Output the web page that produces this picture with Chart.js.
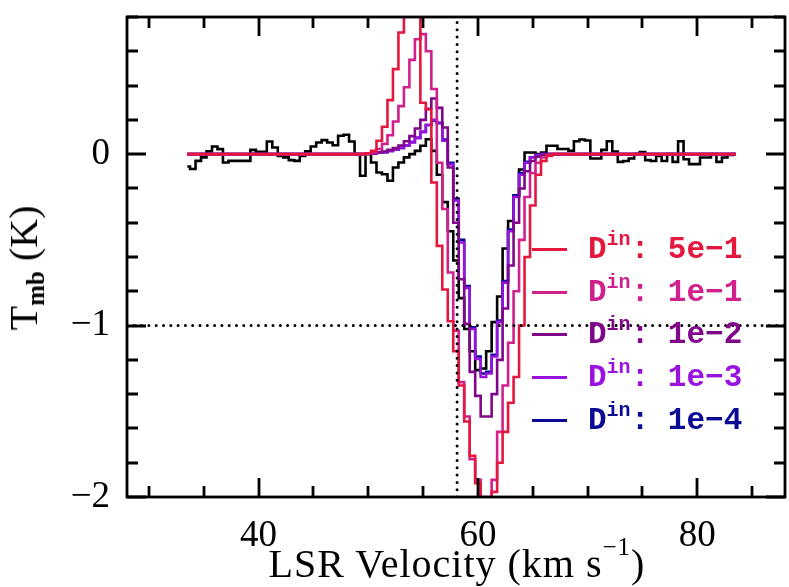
<!DOCTYPE html>
<html>
<head>
<meta charset="utf-8">
<script src="https://cdn.jsdelivr.net/npm/chart.js@4.4.1/dist/chart.umd.min.js"></script>
<style>
  html, body { margin: 0; padding: 0; background: #fff; }
  #wrap { position: relative; width: 789px; height: 587px; overflow: hidden; }
  #plot { position: absolute; left: 0; top: 0; }
  .title { position: absolute; font-family: 'Liberation Serif', serif; font-size: 40px; color: #000; white-space: nowrap; line-height: 1; }
  .title sup { font-size: 25px; vertical-align: baseline; position: relative; top: -22px; }
  .title sub { font-size: 25px; vertical-align: baseline; position: relative; top: 7px; font-weight: bold; }
  #xtitle { left: 0; width: 914px; text-align: center; top: 544px; letter-spacing: 1px; }
  #ytitle { left: 24px; top: 268px; transform: translate(-50%, -50%) rotate(-90deg); }
  .leg { position: absolute; left: 532px; height: 40px; white-space: nowrap; }
  .leg i { position: absolute; left: 0; top: 19px; width: 35px; height: 3px; }
  .leg span { position: absolute; left: 56px; top: 5px; font-family: 'Liberation Mono', monospace; font-weight: bold; font-size: 31px; line-height: 1; }
  .leg sup { font-size: 20px; vertical-align: baseline; position: relative; top: -13px; }
</style>
</head>
<body>
<div id="wrap">
  <canvas id="plot" width="789" height="587"></canvas>
  <div class="title" id="xtitle">LSR Velocity (km s<sup>−1</sup>)</div>
  <div class="title" id="ytitle">T<sub>mb</sub> (K)</div>
  <div id="legend"></div>
</div>
<script>
// observed spectrum, channel centres (km/s)
const obsVelocity = [
  33.5, 34.0, 34.5, 35.0, 35.5, 36.0, 36.5, 37.0, 37.5, 38.0,
  38.5, 39.0, 39.5, 40.0, 40.5, 41.0, 41.5, 42.0, 42.5, 43.0,
  43.5, 44.0, 44.5, 45.0, 45.5, 46.0, 46.5, 47.0, 47.5, 48.0,
  48.5, 49.0, 49.5, 50.0, 50.5, 51.0, 51.5, 52.0, 52.5, 53.0,
  53.5, 54.0, 54.5, 55.0, 55.5, 56.0, 56.5, 57.0, 57.5, 58.0,
  58.5, 59.0, 59.5, 60.0, 60.5, 61.0, 61.5, 62.0, 62.5, 63.0,
  63.5, 64.0, 64.5, 65.0, 65.5, 66.0, 66.5, 67.0, 67.5, 68.0,
  68.5, 69.0, 69.5, 70.0, 70.5, 71.0, 71.5, 72.0, 72.5, 73.0,
  73.5, 74.0, 74.5, 75.0, 75.5, 76.0, 76.5, 77.0, 77.5, 78.0,
  78.5, 79.0, 79.5, 80.0, 80.5, 81.0, 81.5, 82.0, 82.5, 83.0,
  83.5
];
const obsTmb = [
  -0.072, -0.087, -0.039, -0.019, 0.016, 0.045, 0.029, -0.049, -0.039, -0.039,
  -0.039, -0.039, 0.025, 0.014, 0.014, 0.074, 0.039, -0.010, -0.019, -0.035,
  -0.039, -0.010, 0.016, 0.045, 0.068, 0.082, 0.068, 0.052, 0.107, 0.113,
  0.074, 0.000, -0.126, 0.000, -0.049, -0.107, -0.117, -0.155, -0.078, -0.049,
  -0.019, 0.000, 0.019, 0.049, 0.087, 0.019, -0.120, -0.280, -0.450, -0.620,
  -0.840, -1.020, -1.150, -1.260, -1.250, -1.150, -0.980, -0.830, -0.550, -0.390,
  -0.240, -0.090, 0.010, 0.010, 0.000, 0.010, 0.049, 0.049, 0.030, 0.030,
  0.020, 0.075, 0.085, 0.080, -0.025, -0.025, 0.025, 0.075, 0.015, -0.045,
  -0.040, -0.025, 0.000, 0.012, -0.035, -0.040, -0.010, -0.040, 0.000, -0.045,
  0.075, -0.030, -0.058, -0.058, -0.020, -0.020, 0.000, -0.045, -0.020, -0.005,
  0.000
];

// model spectra: flat zero outside 49.5-67 km/s
const modelVelocity = [
  33.5,
  49.5, 50.0, 50.5, 51.0, 51.5, 52.0, 52.5, 53.0, 53.5, 54.0,
  54.5, 55.0, 55.5, 56.0, 56.5, 57.0, 57.5, 58.0, 58.5, 59.0,
  59.5, 60.0, 60.5, 61.0, 61.5, 62.0, 62.5, 63.0, 63.5, 64.0,
  64.5, 65.0, 65.5, 66.0, 66.5, 67.0,
  83.5
];
const model5em1 = [0,
  0, 0.005, 0.019, 0.078, 0.16, 0.315, 0.496, 0.71, 0.95, 1.05,
  0.95, 0.30, 0.26, -0.165, -0.535, -0.79, -0.975, -1.15, -1.35, -1.56,
  -1.76, -1.92, -2.03, -2.03, -1.97, -1.80, -1.62, -1.45, -1.30, -1.00,
  -0.60, -0.30, -0.12, -0.04, -0.01, 0,
  0];
const model1em1 = [0,
  0, 0.003, 0.01, 0.03, 0.06, 0.11, 0.19, 0.28, 0.39, 0.55,
  0.67, 0.70, 0.60, 0.38, -0.05, -0.32, -0.69, -1.03, -1.33, -1.53,
  -1.78, -1.90, -2.0, -2.0, -1.90, -1.62, -1.35, -1.10, -0.80, -0.50,
  -0.25, -0.11, -0.05, -0.02, -0.005, 0,
  0];
const model1em2 = [0,
  0, 0.002, 0.005, 0.01, 0.015, 0.025, 0.035, 0.05, 0.075, 0.105,
  0.15, 0.2, 0.265, 0.325, 0.27, 0.155, -0.078, -0.40, -0.73, -0.99,
  -1.27, -1.41, -1.53, -1.53, -1.40, -1.20, -0.90, -0.65, -0.40, -0.20,
  -0.10, -0.04, -0.015, -0.005, 0, 0,
  0];
const model1em3 = [0,
  0, 0.002, 0.004, 0.008, 0.012, 0.018, 0.026, 0.036, 0.05, 0.07,
  0.095, 0.13, 0.17, 0.2, 0.185, 0.078, -0.06, -0.27, -0.515, -0.78,
  -1.02, -1.195, -1.30, -1.28, -1.18, -0.98, -0.75, -0.45, -0.25, -0.12,
  -0.05, -0.02, -0.005, 0, 0, 0,
  0];
const model1em4 = [0,
  0, 0.002, 0.004, 0.008, 0.012, 0.018, 0.026, 0.036, 0.05, 0.07,
  0.095, 0.13, 0.17, 0.195, 0.18, 0.085, -0.05, -0.26, -0.50, -0.77,
  -1.01, -1.18, -1.28, -1.27, -1.17, -0.97, -0.74, -0.44, -0.24, -0.11,
  -0.045, -0.018, -0.005, 0, 0, 0,
  0];

const modelLabels = ['5e−1', '1e−1', '1e−2', '1e−3', '1e−4'];
const modelColors = ['#e4183f', '#d0218c', '#80078a', '#9a12e0', '#0a0a95'];
const modelSeries = [model5em1, model1em1, model1em2, model1em3, model1em4];

// axes
const xRange = [28, 88];
const yRange = [-2, 0.8];
const xMinorTicks = [30, 35, 40, 45, 50, 55, 60, 65, 70, 75, 80, 85];
const xMajorTicks = [40, 60, 80];
const yMinorTicks = [-2, -1.8, -1.6, -1.4, -1.2, -1, -0.8, -0.6, -0.4, -0.2, 0, 0.2, 0.4, 0.6, 0.8];
const yMajorTicks = [-2, -1, 0];
const refVelocity = 58.1;
const refTmb = -1;

function points(xs, ys) {
    return xs.map((v, i) => ({ x: v, y: ys[i] }));
}

const datasets = [];
datasets.push({
    data: [{ x: refVelocity, y: yRange[0] }, { x: refVelocity, y: yRange[1] }],
    borderColor: '#000', borderWidth: 3, borderDash: [0, 7.3], borderCapStyle: 'round',
    pointRadius: 0, order: 0
});
datasets.push({
    data: [{ x: xRange[0], y: refTmb }, { x: xRange[1], y: refTmb }],
    borderColor: '#000', borderWidth: 3, borderDash: [0, 7.3], borderCapStyle: 'round',
    pointRadius: 0, order: 0
});
modelSeries.forEach((s, i) => {
    datasets.push({
        data: points(modelVelocity, s),
        borderColor: modelColors[i], borderWidth: 2.6, stepped: 'middle',
        pointRadius: 0, order: i + 1
    });
});
datasets.push({
    data: points(obsVelocity, obsTmb),
    borderColor: '#000', borderWidth: 2.6, stepped: 'middle',
    pointRadius: 0, order: 10
});

// frame with inward ticks on all four sides
const framePlugin = {
    id: 'frame',
    afterDraw(chart) {
        const { ctx, chartArea: a, scales: { x, y } } = chart;
        ctx.save();
        ctx.strokeStyle = '#000';
        ctx.lineWidth = 2.8;
        ctx.lineCap = 'butt';
        ctx.strokeRect(a.left, a.top, a.right - a.left, a.bottom - a.top);
        ctx.beginPath();
        xMinorTicks.forEach(v => {
            const px = Math.round(x.getPixelForValue(v));
            const len = xMajorTicks.includes(v) ? 19 : 11;
            ctx.moveTo(px, a.bottom); ctx.lineTo(px, a.bottom - len);
            ctx.moveTo(px, a.top); ctx.lineTo(px, a.top + len);
        });
        yMinorTicks.forEach(v => {
            const py = Math.round(y.getPixelForValue(v));
            const len = yMajorTicks.some(m => Math.abs(m - v) < 1e-6) ? 19 : 11;
            ctx.moveTo(a.left, py); ctx.lineTo(a.left + len, py);
            ctx.moveTo(a.right, py); ctx.lineTo(a.right - len, py);
        });
        ctx.stroke();
        ctx.restore();
    }
};

const tickFont = { family: "'Liberation Serif', serif", size: 37 };
const fmt = v => (v < 0 ? '−' + Math.abs(v) : String(v));

new Chart(document.getElementById('plot').getContext('2d'), {
    type: 'line',
    data: { datasets: datasets },
    options: {
        responsive: false,
        animation: false,
        events: [],
        layout: { padding: { top: 17, right: 4, left: 0, bottom: 0 } },
        plugins: { legend: { display: false }, tooltip: { enabled: false } },
        scales: {
            x: {
                type: 'linear', min: xRange[0], max: xRange[1],
                grid: { display: false, drawTicks: false },
                border: { display: false },
                afterBuildTicks: s => { s.ticks = xMajorTicks.map(v => ({ value: v })); },
                afterFit: s => { s.height = 90; s.paddingLeft = 0; s.paddingRight = 0; },
                ticks: { font: tickFont, color: '#000', padding: 17, maxRotation: 0, callback: fmt }
            },
            y: {
                type: 'linear', min: yRange[0], max: yRange[1],
                grid: { display: false, drawTicks: false },
                border: { display: false },
                afterBuildTicks: s => { s.ticks = yMajorTicks.map(v => ({ value: v })); },
                afterFit: s => { s.width = 127; s.paddingTop = 0; s.paddingBottom = 0; },
                ticks: { font: tickFont, color: '#000', padding: 17, callback: fmt }
            }
        }
    },
    plugins: [framePlugin]
});

// legend with superscripts, built from the model labels/colours
const legendRows = [249, 292, 334, 377, 420];
const legend = document.getElementById('legend');
modelLabels.forEach((lab, i) => {
    const row = document.createElement('div');
    row.className = 'leg';
    row.style.top = (legendRows[i] - 20) + 'px';
    row.innerHTML = `<i style="background:${modelColors[i]}"></i>` +
        `<span style="color:${modelColors[i]}">D<sup>in</sup>: ${lab}</span>`;
    legend.appendChild(row);
});
</script>
</body>
</html>
